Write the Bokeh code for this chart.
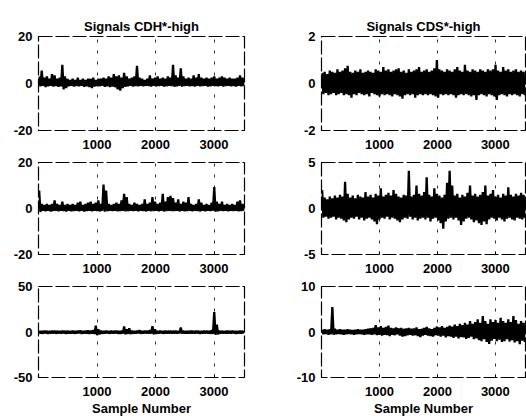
from bokeh.plotting import figure
from bokeh.layouts import column, row
from bokeh.models import FixedTicker, Range1d
from bokeh.embed import file_html
from bokeh.resources import INLINE

# ---------------- data (envelope of each signal per block of 44 samples) ----------------
bin_size = 44
x_ticks = [1000, 2000, 3000]

titles = ["Signals CDH*-high", "Signals CDS*-high"]
x_label = "Sample Number"

# row 1 left: CDH, y -20..20
hi1 = [3.0, 5.5, 2.5, 3.0, 2.0, 4.0, 3.5, 2.0, 2.5, 8.0, 3.0, 2.0, 1.5, 2.0, 1.5, 2.5, 1.5, 2.0, 1.5, 2.0,
       2.0, 2.5, 1.5, 2.0, 2.0, 2.5, 2.0, 3.0, 2.5, 4.0, 3.0, 3.5, 2.5, 4.5, 3.0, 2.0, 2.5, 3.0, 7.5, 2.5,
       2.0, 1.5, 2.0, 3.5, 2.0, 2.5, 3.0, 2.0, 2.5, 2.0, 3.0, 2.5, 8.0, 3.5, 2.5, 6.5, 3.0, 2.0, 2.5, 2.0,
       3.5, 2.5, 4.0, 2.5, 2.0, 2.5, 2.0, 2.5, 3.0, 2.0, 2.5, 3.0, 2.5, 2.0, 2.5, 2.0, 2.0, 2.5, 3.5, 2.5]
lo1 = [-1.2, -1.0, -1.5, -1.2, -1.0, -1.3, -1.1, -1.4, -1.2, -2.5, -2.0, -1.2, -1.0, -1.3, -1.1, -1.2, -1.0, -1.4, -1.2, -1.5,
       -2.0, -1.3, -1.1, -1.2, -1.0, -1.4, -1.2, -1.5, -1.3, -1.6, -2.5, -3.0, -2.0, -1.4, -1.2, -1.0, -1.3, -1.1, -1.2, -1.0,
       -1.2, -1.0, -1.1, -1.3, -1.0, -1.2, -1.1, -1.0, -1.3, -1.2, -1.0, -1.1, -1.4, -1.2, -1.0, -1.3, -1.1, -1.0, -1.2, -1.1,
       -1.3, -1.0, -1.2, -1.1, -1.0, -1.3, -1.2, -1.0, -1.1, -1.2, -1.0, -1.3, -1.1, -1.0, -1.2, -1.1, -1.3, -1.0, -1.2, -1.1]

# row 1 right: CDS, y -2..2
hi2 = [0.45, 0.5, 0.4, 0.55, 0.5, 0.45, 0.6, 0.5, 0.55, 0.65, 0.75, 0.5, 0.45, 0.55, 0.5, 0.6, 0.45, 0.5, 0.55, 0.5,
       0.45, 0.6, 0.55, 0.5, 0.7, 0.55, 0.6, 0.5, 0.55, 0.6, 0.65, 0.5, 0.55, 0.45, 0.6, 0.5, 0.55, 0.6, 0.7, 0.5,
       0.55, 0.6, 0.5, 0.55, 0.65, 1.0, 0.6, 0.55, 0.5, 0.6, 0.55, 0.5, 0.6, 0.7, 0.55, 0.5, 0.8, 0.55, 0.5, 0.6,
       0.55, 0.5, 0.6, 0.55, 0.5, 0.6, 0.55, 0.6, 0.8, 0.55, 0.5, 0.7, 0.55, 0.6, 0.5, 0.55, 0.6, 0.5, 0.55, 0.5]
lo2 = [-0.45, -0.4, -0.5, -0.45, -0.4, -0.5, -0.45, -0.4, -0.5, -0.45, -0.5, -0.6, -0.45, -0.5, -0.4, -0.45, -0.5, -0.45, -0.55, -0.4,
       -0.45, -0.5, -0.55, -0.45, -0.5, -0.45, -0.5, -0.55, -0.45, -0.5, -0.55, -0.65, -0.5, -0.45, -0.5, -0.45, -0.6, -0.5, -0.45, -0.5,
       -0.45, -0.5, -0.45, -0.5, -0.55, -0.6, -0.45, -0.5, -0.45, -0.5, -0.45, -0.5, -0.6, -0.5, -0.45, -0.5, -0.45, -0.5, -0.55, -0.5,
       -0.7, -0.5, -0.45, -0.5, -0.55, -0.45, -0.5, -0.55, -0.7, -0.5, -0.45, -0.5, -0.55, -0.45, -0.5, -0.45, -0.5, -0.55, -0.45, -0.5]

# row 2 left: y -20..20
hi3 = [7.8, 2.0, 1.5, 2.0, 1.5, 2.0, 3.5, 2.0, 1.5, 3.0, 1.5, 2.0, 1.5, 2.0, 1.5, 2.5, 3.0, 1.5, 2.0, 2.5,
       3.0, 2.0, 2.5, 3.5, 2.0, 10.4, 7.8, 2.0, 1.5, 2.0, 2.5, 2.0, 3.5, 6.4, 5.0, 2.0, 1.5, 2.5, 2.0, 1.5,
       2.0, 4.0, 2.0, 2.5, 5.0, 3.0, 2.0, 2.5, 6.4, 3.0, 5.0, 5.5, 4.5, 2.5, 4.0, 2.0, 3.0, 2.5, 5.0, 2.0,
       1.5, 2.0, 4.0, 2.5, 1.5, 2.0, 1.5, 2.5, 9.3, 3.0, 2.0, 3.0, 1.5, 2.0, 1.5, 2.0, 1.5, 3.0, 3.5, 2.0]
lo3 = [-1.5, -1.0, -1.2, -1.0, -1.3, -1.1, -1.0, -1.2, -1.0, -1.1, -1.3, -1.0, -1.2, -1.1, -1.0, -1.2, -1.0, -1.3, -1.1, -1.0,
       -1.2, -1.0, -1.1, -1.3, -1.0, -1.4, -1.2, -1.0, -1.1, -1.0, -1.2, -1.1, -1.0, -1.3, -1.2, -1.0, -1.1, -1.0, -1.2, -1.0,
       -1.1, -1.3, -1.0, -1.2, -1.1, -1.0, -1.2, -1.0, -1.3, -1.1, -1.0, -1.2, -1.1, -1.0, -1.3, -1.0, -1.2, -1.1, -1.0, -1.2,
       -1.0, -1.1, -1.3, -1.0, -1.2, -1.0, -1.1, -1.0, -1.4, -1.2, -1.0, -1.1, -1.0, -1.2, -1.0, -1.1, -1.0, -1.2, -1.1, -1.0]

# row 2 right: y -5..5
hi4 = [2.0, 1.2, 1.0, 1.3, 1.1, 1.4, 1.2, 1.5, 1.3, 2.9, 1.6, 1.2, 1.4, 1.1, 1.5, 1.3, 1.2, 1.8, 1.3, 1.5,
       1.2, 1.6, 1.4, 2.2, 1.3, 1.5, 1.7, 1.4, 2.0, 1.6, 1.3, 1.2, 1.5, 1.4, 4.1, 1.3, 1.5, 2.5, 1.6, 1.4,
       1.8, 3.4, 1.5, 1.3, 2.2, 1.6, 1.4, 1.2, 1.5, 2.8, 4.1, 2.5, 1.4, 1.6, 1.2, 1.5, 1.3, 1.7, 2.5, 1.4,
       1.6, 1.3, 1.5, 1.8, 2.5, 1.4, 1.6, 2.0, 1.3, 1.5, 1.2, 1.6, 1.4, 2.3, 1.5, 1.3, 1.6, 1.4, 1.7, 1.5]
lo4 = [-1.0, -0.9, -1.1, -1.0, -0.9, -1.2, -1.0, -1.1, -1.3, -1.5, -1.2, -1.0, -1.1, -0.9, -1.2, -1.0, -1.3, -1.1, -1.0, -1.2,
       -1.4, -1.7, -1.2, -1.0, -1.1, -0.9, -1.2, -1.0, -1.1, -1.3, -1.5, -1.2, -1.0, -1.1, -0.9, -1.2, -1.0, -1.3, -1.1, -1.0,
       -1.2, -1.0, -1.4, -1.1, -1.0, -1.3, -1.6, -2.2, -1.4, -1.1, -1.0, -1.2, -1.0, -1.3, -1.8, -1.4, -1.1, -1.0, -1.2, -1.5,
       -1.3, -1.6, -1.8, -1.4, -1.7, -1.2, -1.0, -1.1, -1.3, -1.0, -1.2, -1.4, -1.1, -1.0, -1.2, -1.3, -1.0, -1.1, -1.2, -1.0]

# row 3 left: y -50..50
hi5 = [1.2, 1.0, 1.5, 1.2, 1.0, 1.3, 1.5, 1.2, 1.0, 1.4, 1.2, 1.5, 1.0, 1.3, 1.2, 1.5, 1.6, 1.2, 1.4, 1.8,
       1.5, 2.0, 7.0, 3.0, 1.5, 1.2, 1.4, 1.0, 1.3, 1.2, 1.5, 1.2, 1.4, 6.0, 3.0, 4.0, 1.5, 1.2, 1.4, 2.0,
       1.2, 1.5, 1.3, 2.0, 6.5, 3.0, 1.2, 1.4, 1.0, 1.3, 1.2, 1.5, 1.2, 1.3, 1.2, 5.0, 1.4, 1.0, 1.2, 1.3,
       1.2, 1.5, 1.2, 1.0, 1.3, 1.5, 1.2, 2.0, 22.0, 8.0, 1.5, 1.2, 1.0, 1.3, 1.2, 1.4, 1.0, 1.2, 1.3, 1.2]
lo5 = [-1.5, -1.8, -1.5, -2.0, -1.6, -1.5, -1.8, -1.5, -1.7, -1.5, -2.0, -1.6, -1.5, -1.8, -1.6, -1.5, -1.9, -1.6, -1.8, -2.0,
       -1.8, -2.2, -3.5, -2.5, -1.8, -1.6, -1.5, -1.8, -1.6, -1.5, -1.8, -2.0, -1.8, -2.5, -2.0, -2.2, -1.8, -1.6, -1.5, -1.8,
       -1.6, -1.5, -1.8, -1.6, -2.5, -2.0, -1.6, -1.5, -1.8, -1.6, -1.5, -1.7, -1.5, -1.6, -1.5, -1.8, -1.6, -1.5, -1.7, -1.5,
       -1.6, -1.5, -1.8, -1.6, -1.5, -1.7, -1.8, -2.0, -3.0, -2.5, -1.6, -1.5, -1.7, -1.5, -1.6, -1.5, -1.8, -1.6, -1.5, -1.7]

# row 3 right: y -10..10
hi6 = [0.5, 0.6, 0.5, 0.6, 5.5, 0.7, 0.5, 0.6, 0.5, 0.5, 0.6, 0.5, 0.4, 0.5, 0.6, 0.5, 0.5, 0.6, 0.7, 0.8,
       0.9, 1.5, 1.0, 1.3, 0.9, 1.1, 1.4, 0.9, 0.8, 1.0, 0.8, 0.9, 0.7, 0.8, 0.9, 0.7, 0.8, 1.0, 0.6, 0.7,
       0.9, 1.1, 0.8, 0.6, 0.9, 1.2, 1.0, 1.3, 0.9, 1.1, 1.4, 1.2, 1.6, 1.3, 1.8, 1.5, 2.0, 1.6, 2.4, 1.8,
       2.2, 2.8, 2.0, 3.5, 2.4, 1.8, 2.8, 2.2, 2.6, 2.0, 3.1, 2.4, 2.0, 2.8, 2.2, 3.5, 2.6, 1.8, 2.4, 2.0]
lo6 = [-0.5, -0.4, -0.6, -0.5, -0.6, -0.5, -0.4, -0.5, -0.6, -0.5, -0.4, -0.5, -0.6, -0.5, -0.4, -0.5, -0.6, -0.5, -0.5, -0.6,
       -0.5, -0.7, -0.6, -0.8, -0.6, -0.7, -0.9, -0.6, -0.7, -0.5, -0.8, -1.0, -0.9, -0.7, -0.6, -0.8, -0.7, -0.9, -1.1, -0.8,
       -0.6, -0.8, -0.9, -1.0, -0.7, -0.8, -1.0, -0.8, -1.2, -0.9, -1.0, -1.3, -1.0, -1.4, -1.1, -1.2, -1.5, -1.3, -1.0, -1.6,
       -1.4, -1.8, -2.0, -1.6, -2.2, -2.6, -1.9, -1.5, -2.0, -1.7, -2.2, -2.0, -1.6, -2.1, -1.8, -2.3, -2.0, -2.7, -1.9, -2.2]

panels = [
    (hi1, lo1, 20, [-20, 0, 20]),
    (hi2, lo2, 2, [-2, 0, 2]),
    (hi3, lo3, 20, [-20, 0, 20]),
    (hi4, lo4, 5, [-5, 0, 5]),
    (hi5, lo5, 50, [-50, 0, 50]),
    (hi6, lo6, 10, [-10, 0, 10]),
]

FONT = "Liberation Sans"


def zigzag(hi, lo):
    xs, ys = [], []
    for i, (h, l) in enumerate(zip(hi, lo)):
        xs += [i * bin_size + bin_size * 0.25, i * bin_size + bin_size * 0.75]
        ys += [h, l]
    return xs, ys


def make(idx, fw, fh, bl, br, bt, bb):
    hi, lo, lim, yt = panels[idx]
    col = idx % 2
    rw = idx // 2
    p = figure(frame_width=fw, frame_height=fh,
               x_range=Range1d(0, bin_size * len(hi)), y_range=Range1d(-lim, lim),
               output_backend="svg", toolbar_location=None,
               min_border_left=bl, min_border_right=br, min_border_top=bt, min_border_bottom=bb)
    if rw == 0:
        p.title.text = titles[col]
        p.title.align = "center"
        p.title.text_font = FONT
        p.title.text_font_size = "13px"
        p.title.text_font_style = "bold"
        p.title.text_color = "black"
        p.title.standoff = 6
    if rw == 2:
        p.xaxis.axis_label = x_label
        p.xaxis.axis_label_text_font = FONT
        p.xaxis.axis_label_text_font_size = "13px"
        p.xaxis.axis_label_text_font_style = "bold"
        p.xaxis.axis_label_text_color = "black"
        p.xaxis.axis_label_standoff = 2
    xs, ys = zigzag(hi, lo)
    p.line(xs, ys, line_color="black", line_width=2.3, line_join="bevel")
    p.xaxis.ticker = FixedTicker(ticks=x_ticks)
    p.yaxis.ticker = FixedTicker(ticks=yt)
    p.yaxis.major_label_overrides = {t: str(t) for t in yt}
    for ax in (p.xaxis, p.yaxis):
        ax.major_label_text_font = FONT
        ax.major_label_text_font_size = "13px"
        ax.major_label_text_font_style = "bold"
        ax.major_label_text_color = "black"
        ax.major_tick_in = 3
        ax.major_tick_out = 0
        ax.minor_tick_line_color = None
        ax.axis_line_color = None
        ax.major_tick_line_color = "black"
    p.xaxis.major_label_standoff = 9
    p.yaxis.major_label_standoff = 6
    p.grid.grid_line_color = "black"
    p.grid.grid_line_dash = "3 8"
    p.grid.grid_line_width = 1
    p.grid.grid_line_alpha = 0.8
    p.outline_line_color = "black"
    p.outline_line_width = 1.2
    p.outline_line_dash = "14 3"
    p.outline_line_alpha = 1
    p.background_fill_color = "white"
    p.border_fill_color = "white"
    return p


LW, RW = 206, 204
f1 = make(0, LW, 94, 38, 19, 36, 24)
f2 = make(1, RW, 94, 58, 1, 36, 24)
f3 = make(2, LW, 92, 38, 19, 8, 24)
f4 = make(3, RW, 92, 58, 1, 8, 24)
f5 = make(4, LW, 91, 38, 19, 8, 40)
f6 = make(5, RW, 91, 58, 1, 8, 40)

layout = column(row(f1, f2), row(f3, f4), row(f5, f6))
open("out.html", "w").write(file_html(layout, INLINE))
